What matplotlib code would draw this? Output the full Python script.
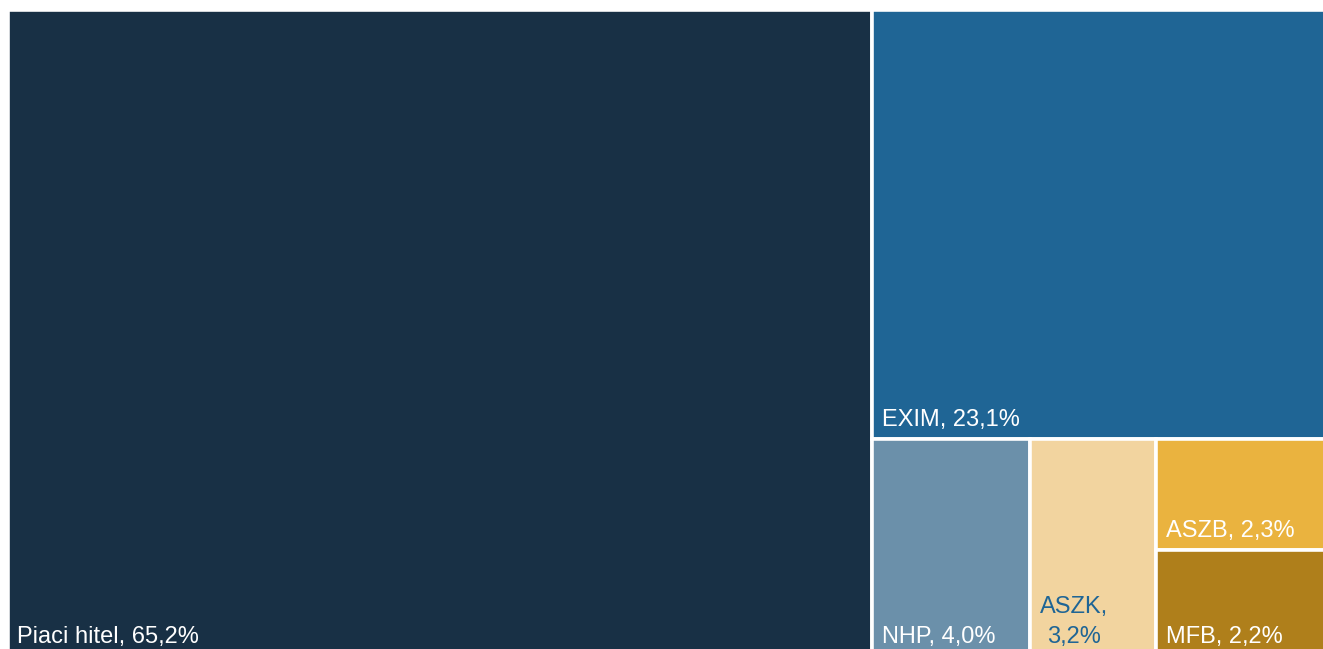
import matplotlib.pyplot as plt
from matplotlib.patches import Rectangle

plt.rcParams['font.family'] = ['Liberation Sans', 'DejaVu Sans']

# data
labels = ['Piaci hitel', 'EXIM', 'NHP', 'ASZK', 'ASZB', 'MFB']
shares = [65.2, 23.1, 4.0, 3.2, 2.3, 2.2]
colors = ['#183045', '#1F6595', '#6B90AA', '#F2D49F', '#EAB33F', '#AF7F1B']
text_colors = ['white', 'white', 'white', '#1F6595', 'white', 'white']


def layout(vals, W, H):
    # fixed slicing that follows the original treemap
    piaci, exim, nhp, aszk, aszb, mfb = vals
    rest = W * (1 - piaci / 100.0)
    x0 = W - rest
    rects = [(0, 0, x0, H)]
    h_exim = H * exim / (100.0 - piaci)
    rects.append((x0, H - h_exim, rest, h_exim))
    hb = H - h_exim
    small = nhp + aszk + aszb + mfb
    w_nhp = rest * nhp / small
    w_aszk = rest * aszk / small
    w_col = rest - w_nhp - w_aszk
    rects.append((x0, 0, w_nhp, hb))
    rects.append((x0 + w_nhp, 0, w_aszk, hb))
    h_aszb = hb * aszb / (aszb + mfb)
    rects.append((x0 + w_nhp + w_aszk, hb - h_aszb, w_col, h_aszb))
    rects.append((x0 + w_nhp + w_aszk, 0, w_col, hb - h_aszb))
    return rects


fig = plt.figure(figsize=(13.23, 6.49), dpi=100)
# the treemap runs a little past the right and bottom edges of the image
ax = fig.add_axes([7.5 / 1323, -7 / 649, (1334 - 7.5) / 1323, (649 - 10 + 7) / 649])
W, H = 100.0, 100.0
ax.set_xlim(0, W)
ax.set_ylim(0, H)
ax.axis('off')

for (x, y, w, h), lab, val, c, tc in zip(layout(shares, W, H), labels, shares,
                                          colors, text_colors):
    ax.add_patch(Rectangle((x, y), w, h, facecolor=c, edgecolor='white', lw=2.6))
    pct = f'{val:.1f}'.replace('.', ',') + '%'
    if lab == 'ASZK':
        txt = f'{lab},\n{pct}'
    else:
        txt = f'{lab}, {pct}'
    ax.annotate(txt, (x, y), xytext=(6.8, 9.4), textcoords='offset points',
                ha='left', va='baseline', multialignment='center',
                fontsize=17, color=tc, linespacing=1.45)

fig.savefig('out.png', dpi=100)
